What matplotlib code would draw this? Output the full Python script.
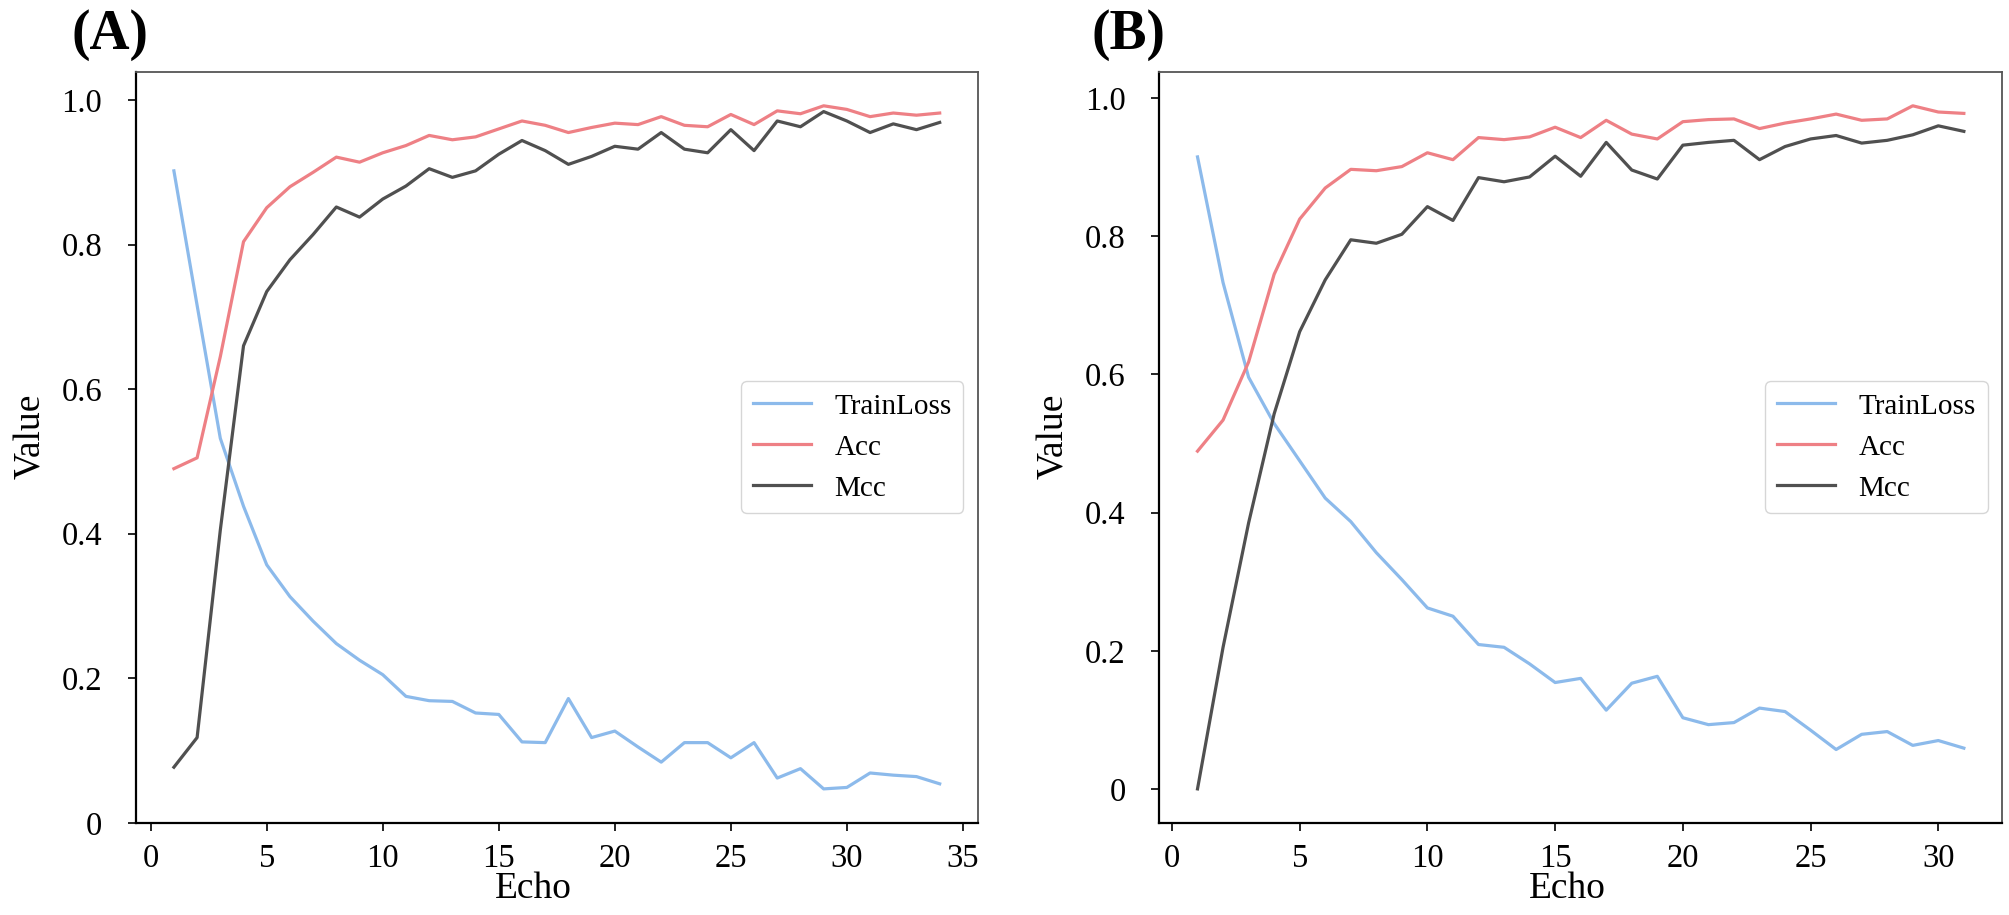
import matplotlib
matplotlib.use("Agg")
import matplotlib.pyplot as plt

plt.rcParams['font.family'] = ['Liberation Serif', 'DejaVu Serif']

# panel A: 34 echoes
a_loss = [0.902, 0.716, 0.532, 0.438, 0.357, 0.313, 0.279, 0.248, 0.225, 0.205,
          0.175, 0.169, 0.168, 0.152, 0.150, 0.112, 0.111, 0.172, 0.118, 0.127,
          0.105, 0.084, 0.111, 0.111, 0.090, 0.111, 0.062, 0.075, 0.047, 0.049,
          0.069, 0.066, 0.064, 0.054]
a_acc = [0.490, 0.505, 0.645, 0.804, 0.851, 0.880, 0.900, 0.921, 0.914, 0.927,
         0.937, 0.951, 0.945, 0.949, 0.960, 0.971, 0.965, 0.955, 0.962, 0.968,
         0.966, 0.977, 0.965, 0.963, 0.980, 0.966, 0.985, 0.981, 0.992, 0.987,
         0.977, 0.982, 0.979, 0.982]
a_mcc = [0.077, 0.118, 0.405, 0.660, 0.735, 0.779, 0.814, 0.852, 0.838, 0.863,
         0.881, 0.905, 0.893, 0.902, 0.925, 0.944, 0.930, 0.911, 0.922, 0.936,
         0.932, 0.955, 0.932, 0.927, 0.959, 0.930, 0.971, 0.963, 0.984, 0.971,
         0.955, 0.967, 0.959, 0.969]

# panel B: 31 echoes
b_loss = [0.915, 0.733, 0.596, 0.529, 0.475, 0.421, 0.387, 0.342, 0.303, 0.262,
          0.250, 0.209, 0.205, 0.181, 0.154, 0.160, 0.114, 0.153, 0.163, 0.103,
          0.093, 0.096, 0.117, 0.112, 0.085, 0.057, 0.079, 0.083, 0.063, 0.070,
          0.059]
b_acc = [0.489, 0.534, 0.618, 0.745, 0.825, 0.870, 0.897, 0.895, 0.901, 0.921,
         0.911, 0.943, 0.940, 0.944, 0.958, 0.943, 0.968, 0.948, 0.941, 0.966,
         0.969, 0.970, 0.956, 0.964, 0.970, 0.977, 0.968, 0.970, 0.989, 0.980,
         0.978]
b_mcc = [0.0, 0.205, 0.385, 0.543, 0.662, 0.737, 0.795, 0.790, 0.803, 0.843,
         0.823, 0.885, 0.879, 0.886, 0.916, 0.887, 0.936, 0.896, 0.883, 0.932,
         0.936, 0.939, 0.911, 0.930, 0.941, 0.946, 0.935, 0.939, 0.947, 0.960,
         0.952]

panel_labels = ['(A)', '(B)']
series_names = ['TrainLoss', 'Acc', 'Mcc']
colors = ['#8cbaeb', '#ee8085', '#505050']
yticks = [0, 0.2, 0.4, 0.6, 0.8, 1.0]
ytick_labels = ['0', '0.2', '0.4', '0.6', '0.8', '1.0']

fig = plt.figure(figsize=(20.09, 9.15), dpi=100)
ax_a = fig.add_axes([0.0675, 0.1005, 0.4193, 0.8212])
ax_b = fig.add_axes([0.577, 0.1005, 0.4196, 0.8212])

panels = [(ax_a, [a_loss, a_acc, a_mcc], 0.472),
          (ax_b, [b_loss, b_acc, b_mcc], 0.484)]
for ax, series, xlab_x in panels:
    for vals, name, c in zip(series, series_names, colors):
        ax.plot(range(1, len(vals) + 1), vals, color=c, lw=2.3, label=name)
    ax.set_yticks(yticks)
    ax.set_yticklabels(ytick_labels)
    ax.tick_params(axis='y', labelsize=23.5, length=6, width=1.2, pad=18)
    ax.tick_params(axis='x', labelsize=23.5, length=6, width=1.2, pad=9)
    ax.set_xlabel('Echo', fontsize=27)
    ax.set_ylabel('Value', fontsize=27)
    ax.xaxis.set_label_coords(xlab_x, -0.065)
    ax.yaxis.set_label_coords(-0.104, 0.515)
    for side in ['left', 'bottom']:
        ax.spines[side].set_color('black')
        ax.spines[side].set_linewidth(1.6)
    for side in ['top', 'right']:
        ax.spines[side].set_color('#555555')
        ax.spines[side].set_linewidth(1.3)
    ax.legend(loc='center right', fontsize=21, borderaxespad=0.5)

fig.text(0.0548, 0.962, panel_labels[0], fontsize=40, fontweight='bold',
         ha='center', va='center')
fig.text(0.5615, 0.962, panel_labels[1], fontsize=40, fontweight='bold',
         ha='center', va='center')

fig.savefig('out.png', dpi=100)
